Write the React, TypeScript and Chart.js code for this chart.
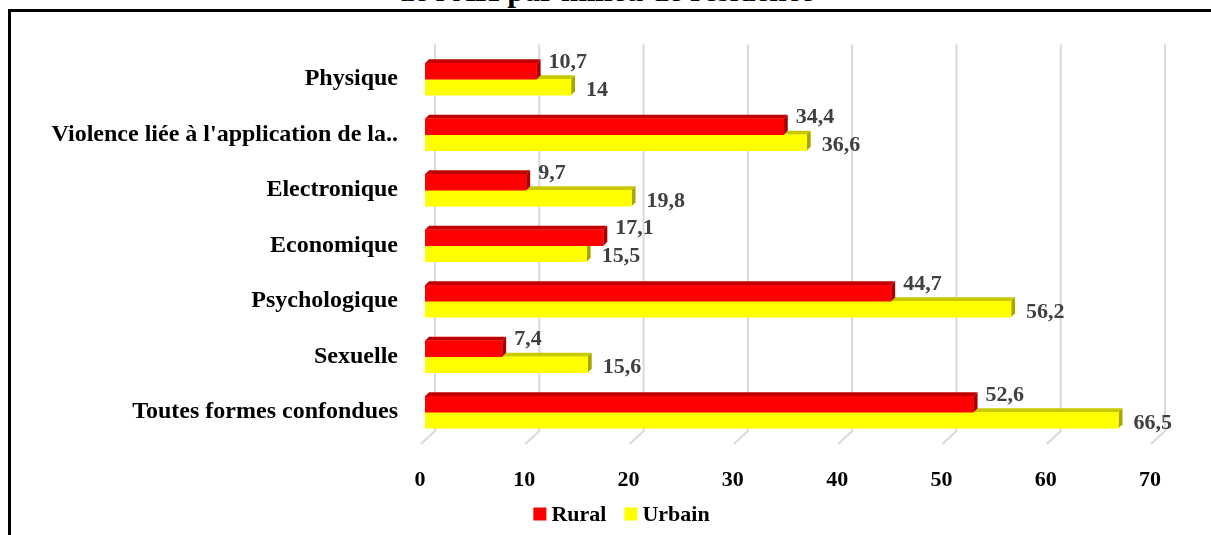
import React, { useEffect, useRef } from "react";
import { Chart, registerables } from "chart.js";

Chart.register(...registerables);

const categories = [
  "Physique",
  "Violence liée à l'application de la..",
  "Electronique",
  "Economique",
  "Psychologique",
  "Sexuelle",
  "Toutes formes confondues",
];
const rural = [10.7, 34.4, 9.7, 17.1, 44.7, 7.4, 52.6];
const urbain = [14, 36.6, 19.8, 15.5, 56.2, 15.6, 66.5];
const seriesNames = ["Rural", "Urbain"];
const xTicks = [0, 10, 20, 30, 40, 50, 60, 70];
const titleText = "de l'AH par milieu de résidence";

const W = 1211;
const H = 535;
const FONT = "'Liberation Serif', 'Times New Roman', serif";
const FRONT = ["#FF0000", "#FFFF00"];
const TOP = ["#C00000", "#C8C800"];
const SIDE = ["#A80000", "#A6A600"];

const fmt = (v: number) => String(v).replace(".", ",");

const gridAndFaces = {
  id: "gridAndFaces",
  beforeDatasetsDraw(chart: any) {
    const ctx = chart.ctx;
    const xs = chart.scales.x;
    const area = chart.chartArea;
    ctx.save();
    ctx.strokeStyle = "#D9D9D9";
    ctx.lineWidth = 2;
    xTicks.forEach((v) => {
      const x = xs.getPixelForValue(v) + 10;
      ctx.beginPath();
      ctx.moveTo(x, area.top - 7);
      ctx.lineTo(x, area.bottom - 9);
      ctx.lineTo(x - 14, area.bottom + 4);
      ctx.stroke();
    });
    const d = 4;
    for (let di = chart.data.datasets.length - 1; di >= 0; di--) {
      const meta = chart.getDatasetMeta(di);
      meta.data.forEach((el: any) => {
        const { x, y, base, height } = el.getProps(["x", "y", "base", "height"], true);
        const top = y - height / 2;
        const bot = y + height / 2;
        ctx.fillStyle = TOP[di];
        ctx.beginPath();
        ctx.moveTo(base, top);
        ctx.lineTo(x, top);
        ctx.lineTo(x + d, top - d);
        ctx.lineTo(base + d, top - d);
        ctx.closePath();
        ctx.fill();
        ctx.fillStyle = SIDE[di];
        ctx.beginPath();
        ctx.moveTo(x, top);
        ctx.lineTo(x + d, top - d);
        ctx.lineTo(x + d, bot - d);
        ctx.lineTo(x, bot);
        ctx.closePath();
        ctx.fill();
      });
    }
    ctx.restore();
  },
  afterDatasetsDraw(chart: any) {
    const ctx = chart.ctx;
    ctx.save();
    ctx.font = `bold 22px ${FONT}`;
    ctx.fillStyle = "#404040";
    ctx.textBaseline = "middle";
    ctx.textAlign = "left";
    chart.data.datasets.forEach((ds: any, di: number) => {
      const meta = chart.getDatasetMeta(di);
      meta.data.forEach((el: any, i: number) => {
        const { x, y } = el.getProps(["x", "y"], true);
        const txt = fmt(ds.data[i]);
        if (di === 0) ctx.fillText(txt, x + 12, y - 9);
        else ctx.fillText(txt, x + 15, y + 3);
      });
    });
    ctx.restore();
  },
  afterDraw(chart: any) {
    const ctx = chart.ctx;
    ctx.save();
    ctx.font = `bold 22px ${FONT}`;
    ctx.textBaseline = "middle";
    ctx.textAlign = "left";
    const box = 13;
    const gap = 5;
    const itemGap = 18;
    const widths = seriesNames.map((n) => ctx.measureText(n).width);
    const total = widths.reduce((a, b) => a + b, 0) + seriesNames.length * (box + gap) + itemGap * (seriesNames.length - 1);
    let x = 621.5 - total / 2;
    const yc = 514;
    seriesNames.forEach((n, i) => {
      ctx.fillStyle = FRONT[i];
      ctx.fillRect(x, yc - box / 2, box, box);
      x += box + gap;
      ctx.fillStyle = "#000";
      ctx.fillText(n, x, yc + 1);
      x += widths[i] + itemGap;
    });
    ctx.restore();
  },
};

export default function App() {
  const ref = useRef<HTMLCanvasElement | null>(null);
  useEffect(() => {
    if (!ref.current) return;
    const chart = new Chart(ref.current, {
      type: "bar",
      data: {
        labels: categories,
        datasets: [
          { label: seriesNames[0], data: rural, backgroundColor: FRONT[0], barThickness: 16 },
          { label: seriesNames[1], data: urbain, backgroundColor: FRONT[1], barThickness: 16 },
        ],
      },
      options: {
        indexAxis: "y",
        responsive: false,
        animation: false,
        devicePixelRatio: 1,
        layout: { padding: { left: 0, right: 56, top: 51.5, bottom: 0 } },
        plugins: {
          legend: { display: false },
          tooltip: { enabled: false },
          title: { display: false },
        },
        scales: {
          x: {
            min: 0,
            max: 70,
            position: "bottom",
            grid: { display: false, drawTicks: false },
            border: { display: false },
            afterBuildTicks: (s: any) => {
              s.ticks = xTicks.map((v) => ({ value: v }));
            },
            ticks: {
              padding: 27,
              labelOffset: -5,
              color: "#000",
              font: { family: FONT, size: 22, weight: "bold" },
            },
            afterFit: (s: any) => {
              s.height = 95;
            },
          },
          y: {
            grid: { display: false, drawTicks: false },
            border: { display: false },
            ticks: {
              padding: 27,
              autoSkip: false,
              color: "#000",
              font: { family: FONT, size: 24, weight: "bold" },
            },
            afterFit: (s: any) => {
              s.width = 425;
            },
          },
        },
      },
      plugins: [gridAndFaces],
    } as any);
    return () => chart.destroy();
  }, []);

  return (
    <div
      style={{
        position: "fixed",
        left: 0,
        top: 0,
        width: W,
        height: H,
        overflow: "hidden",
        background: "#fff",
      }}
    >
      <div
        style={{
          position: "absolute",
          left: 8,
          top: 9,
          width: 1400,
          height: 800,
          border: "3px solid #000",
          boxSizing: "border-box",
        }}
      />
      <div
        style={{
          position: "absolute",
          left: 0,
          top: -24,
          width: W,
          textAlign: "center",
          font: `bold 31px ${FONT}`,
          lineHeight: "30px",
          whiteSpace: "nowrap",
          color: "#000",
        }}
      >
        {titleText}
      </div>
      <canvas ref={ref} width={W} height={H} style={{ position: "absolute", left: 0, top: 0 }} />
    </div>
  );
}
